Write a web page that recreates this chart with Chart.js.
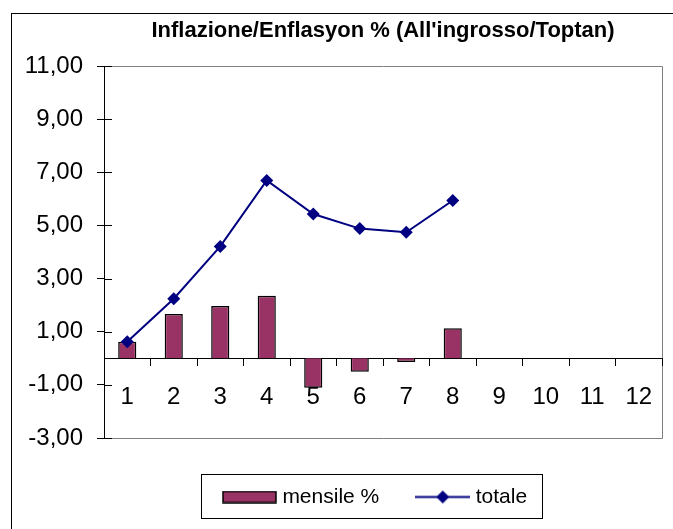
<!DOCTYPE html>
<html>
<head>
<meta charset="utf-8">
<script src="https://cdn.jsdelivr.net/npm/chart.js@4"></script>
<style>
  html, body { margin: 0; padding: 0; background: #fff; }
  #wrap { width: 673px; height: 529px; }
</style>
</head>
<body>
<div id="wrap"><canvas id="inflChart" width="673" height="529"></canvas></div>
<script>
// values
const months = ['1', '2', '3', '4', '5', '6', '7', '8', '9', '10', '11', '12'];
const mensile = [0.62, 1.67, 1.97, 2.35, -1.11, -0.51, -0.14, 1.13, null, null, null, null];
const totale = [0.62, 2.24, 4.21, 6.69, 5.43, 4.88, 4.74, 5.94, null, null, null, null];
const seriesNames = ['mensile %', 'totale'];
const titleText = "Inflazione/Enflasyon % (All'ingrosso/Toptan)";

const FONT = "'Liberation Sans', Arial, sans-serif";
const BAR_COLOR = '#993366';
const LINE_COLOR = '#000080';

// little pictures for the legend keys
function barKey() {
    const c = document.createElement('canvas');
    c.width = 55; c.height = 13;
    const g = c.getContext('2d');
    g.fillStyle = BAR_COLOR;
    g.fillRect(1, 1, 53, 11);
    g.strokeStyle = '#000';
    g.lineWidth = 1.5;
    g.strokeRect(1, 1, 53, 11);
    return c;
}
function lineKey() {
    const c = document.createElement('canvas');
    c.width = 55; c.height = 15;
    const g = c.getContext('2d');
    g.strokeStyle = LINE_COLOR;
    g.lineWidth = 2;
    g.beginPath(); g.moveTo(0, 7.5); g.lineTo(55, 7.5); g.stroke();
    g.fillStyle = LINE_COLOR;
    g.beginPath();
    g.moveTo(27.5, 1); g.lineTo(34, 7.5); g.lineTo(27.5, 14); g.lineTo(21, 7.5);
    g.closePath(); g.fill();
    return c;
}

// frames: outer border, plot area border, legend box
const frames = {
    id: 'frames',
    afterLayout(chart) {
        // nudge the legend so it sits like the original
        const lg = chart.legend;
        lg.top += 7.5; lg.bottom += 7.5;
        lg.left -= 6; lg.right -= 6;
    },
    beforeDraw(chart) {
        const ctx = chart.ctx;
        const a = chart.chartArea;
        ctx.save();
        ctx.strokeStyle = '#000';
        ctx.lineWidth = 1;
        ctx.strokeRect(11.5, 13.5, 700, 600);
        ctx.strokeStyle = '#808080';
        ctx.beginPath();
        ctx.moveTo(a.left, Math.round(a.top) + 0.5);
        ctx.lineTo(Math.round(a.right) + 0.5, Math.round(a.top) + 0.5);
        ctx.lineTo(Math.round(a.right) + 0.5, Math.round(a.bottom) + 0.5);
        ctx.lineTo(a.left, Math.round(a.bottom) + 0.5);
        ctx.stroke();
        ctx.restore();
    },
    afterDraw(chart) {
        const ctx = chart.ctx;
        // y tick marks cross the axis a little, like the original
        const ys = chart.scales.y;
        ctx.save();
        ctx.strokeStyle = '#000';
        ctx.lineWidth = 1;
        ctx.beginPath();
        ys.ticks.forEach(t => {
            const py = Math.round(ys.getPixelForValue(t.value)) + 0.5;
            ctx.moveTo(ys.right, py);
            ctx.lineTo(ys.right + 8, py);
        });
        ctx.stroke();
        ctx.restore();

        const lg = chart.legend;
        if (!lg || !lg.legendHitBoxes || !lg.legendHitBoxes.length) return;
        const hb = lg.legendHitBoxes;
        const first = hb[0], last = hb[hb.length - 1];
        const cy = lg.top + lg.options.labels.padding + 10.5;
        ctx.save();
        ctx.strokeStyle = '#000';
        ctx.lineWidth = 1;
        const l = Math.round(first.left - 26) + 0.5;
        const r = Math.round(last.left + last.width + 15) + 0.5;
        ctx.strokeRect(l, Math.round(cy - 23) + 0.5, r - l, 44);
        ctx.restore();
    }
};

const ctx = document.getElementById('inflChart').getContext('2d');
new Chart(ctx, {
    data: {
        labels: months,
        datasets: [{
            type: 'bar',
            label: seriesNames[0],
            data: mensile,
            backgroundColor: BAR_COLOR,
            borderColor: '#000',
            borderWidth: 1.5,
            barPercentage: 0.39,
            categoryPercentage: 1,
            order: 1
        }, {
            type: 'line',
            label: seriesNames[1],
            data: totale,
            borderColor: LINE_COLOR,
            backgroundColor: LINE_COLOR,
            borderWidth: 2,
            pointStyle: 'rectRot',
            pointRadius: 6.5,
            pointHoverRadius: 6.5,
            pointBorderWidth: 0,
            tension: 0,
            order: 0
        }]
    },
    plugins: [frames],
    options: {
        responsive: false,
        animation: false,
        layout: { padding: { left: 0, right: 11, top: 0, bottom: 19 } },
        scales: {
            x: {
                type: 'category',
                position: { y: 0 },
                offset: true,
                border: { display: true, color: '#000', width: 1 },
                grid: { display: true, offset: true, drawOnChartArea: false, drawTicks: true, tickLength: 7, color: '#000' },
                ticks: { color: '#000', font: { family: FONT, size: 24 }, padding: 18, maxRotation: 0, autoSkip: false },
                afterFit(scale) { scale.height = 0; }
            },
            y: {
                position: 'left',
                min: -3,
                max: 11,
                border: { display: true, color: '#000', width: 1 },
                grid: { display: true, drawOnChartArea: false, drawTicks: true, tickLength: 7, color: '#000' },
                ticks: {
                    stepSize: 2,
                    color: '#000',
                    padding: 14,
                    font: { family: FONT, size: 24 },
                    callback: v => v.toFixed(2).replace('.', ',')
                },
                afterFit(scale) { scale.width = 104; }
            }
        },
        plugins: {
            title: {
                display: true,
                text: titleText,
                fullSize: false,
                color: '#000',
                font: { family: FONT, size: 22, weight: 'bold', lineHeight: 1.2 },
                padding: { top: 17.8, bottom: 21.8 }
            },
            legend: {
                display: true,
                position: 'bottom',
                fullSize: false,
                labels: {
                    color: '#000',
                    font: { family: FONT, size: 21 },
                    usePointStyle: true,
                    pointStyleWidth: 45,
                    padding: 41,
                    generateLabels() {
                        return [
                            { text: seriesNames[0], pointStyle: barKey(), datasetIndex: 0, hidden: false, lineWidth: 0, fontColor: '#000' },
                            { text: seriesNames[1], pointStyle: lineKey(), datasetIndex: 1, hidden: false, lineWidth: 0, fontColor: '#000' }
                        ];
                    }
                }
            },
            tooltip: { enabled: false }
        }
    }
});
</script>
</body>
</html>
